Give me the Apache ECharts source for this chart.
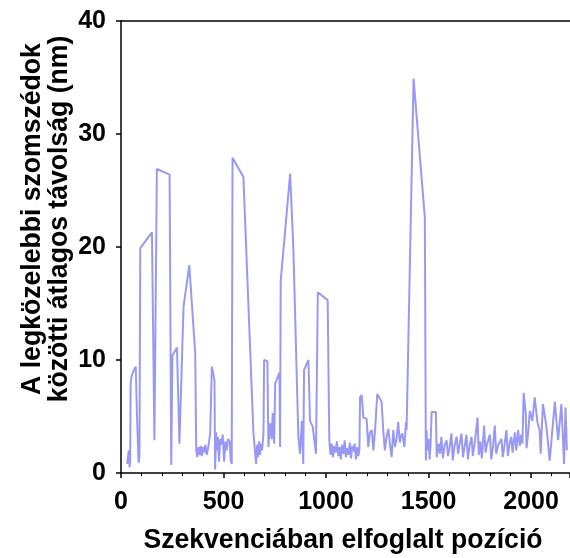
<!DOCTYPE html>
<html>
<head>
<meta charset="utf-8">
<script src="https://cdn.jsdelivr.net/npm/echarts@6/dist/echarts.min.js"></script>
<style>
  html, body { margin: 0; padding: 0; background: #fff; }
  #main { width: 570px; height: 558px; }
</style>
</head>
<body>
<div id="main"></div>
<script>
// pozíció (x) és távolság (nm) párok
const positions = [
  30, 38, 42, 45, 47, 52, 60, 72, 78, 86, 90, 94, 151, 163, 175, 237, 245, 251, 273, 285,
  305, 333, 362, 367, 372, 378, 383, 389, 394, 400, 406, 412, 418, 425, 435, 443, 456, 459, 464, 468,
  473, 478, 484, 490, 496, 503, 509, 515, 522, 530, 535, 540, 544, 597, 646, 659, 664, 668, 673, 678,
  683, 688, 695, 698, 714, 719, 727, 735, 740, 747, 752, 773, 776, 779, 825, 841, 865, 873, 882, 889,
  893, 914, 922, 935, 951, 960, 1008, 1016, 1022, 1028, 1034, 1040, 1047, 1053, 1060, 1066, 1072, 1078, 1085, 1091,
  1097, 1104, 1110, 1116, 1122, 1128, 1134, 1140, 1146, 1152, 1158, 1163, 1166, 1174, 1182, 1198, 1206, 1214, 1223, 1231,
  1240, 1250, 1255, 1271, 1279, 1287, 1295, 1304, 1312, 1320, 1328, 1336, 1344, 1352, 1360, 1366, 1372, 1382, 1390, 1393,
  1427, 1482, 1487, 1490, 1495, 1500, 1505, 1510, 1515, 1536, 1540, 1550, 1556, 1563, 1570, 1578, 1588, 1595, 1602, 1612,
  1618, 1626, 1637, 1644, 1652, 1661, 1668, 1675, 1685, 1692, 1700, 1710, 1716, 1725, 1739, 1745, 1752, 1760, 1771, 1778,
  1786, 1799, 1806, 1814, 1823, 1830, 1840, 1856, 1862, 1870, 1880, 1887, 1895, 1904, 1910, 1921, 1928, 1937, 1945, 1952,
  1958, 1964, 1974, 1978, 1986, 1994, 2006, 2018, 2031, 2042, 2047, 2058, 2075, 2091, 2100, 2116, 2132, 2148, 2161, 2168,
  2175
];
const distances = [
  0.8, 2.0, 0.5, 1.2, 8.0, 8.6, 9.0, 9.4, 5.0, 0.9, 1.5, 19.9, 21.3, 2.9, 26.9, 26.4, 0.7, 10.4, 11.1, 2.6,
  14.7, 18.4, 10.6, 2.0, 1.4, 2.3, 1.6, 2.4, 1.5, 2.3, 1.8, 2.5, 1.6, 2.2, 3.5, 9.4, 8.2, 0.3, 3.6, 2.0,
  3.2, 1.0, 3.0, 2.5, 3.4, 1.0, 2.8, 2.0, 3.0, 2.8, 1.2, 0.8, 27.9, 26.2, 3.5, 0.8, 2.5, 1.4, 2.8, 1.6,
  2.6, 2.0, 3.5, 10.0, 9.9, 2.3, 4.4, 3.0, 5.3, 2.6, 7.9, 8.9, 2.3, 17.0, 26.5, 19.7, 3.2, 1.7, 4.6, 0.8,
  9.1, 10.0, 4.6, 4.1, 1.7, 16.0, 15.3, 2.9, 1.6, 2.6, 1.4, 2.4, 1.8, 2.8, 1.5, 2.3, 1.2, 2.5, 1.7, 2.9,
  1.4, 2.2, 1.6, 2.7, 1.3, 2.4, 1.9, 2.6, 1.2, 2.3, 1.5, 2.2, 6.7, 6.9, 4.9, 4.8, 2.3, 3.6, 3.8, 2.0,
  4.0, 7.0, 6.9, 6.3, 3.8, 2.0, 3.2, 3.9, 2.5, 1.4, 3.8, 2.3, 3.0, 4.5, 2.7, 3.3, 3.5, 2.3, 4.5, 3.8,
  34.9, 22.6, 1.1, 3.8, 2.0, 3.0, 1.2, 2.5, 5.4, 5.4, 1.4, 2.6, 1.7, 3.2, 1.3, 2.4, 2.9, 1.5, 2.2, 3.5,
  1.1, 2.3, 3.2, 1.7, 2.6, 3.5, 1.4, 2.2, 3.4, 1.2, 2.4, 3.2, 1.5, 2.6, 4.9, 1.6, 2.8, 1.3, 4.2, 1.8,
  2.6, 3.4, 1.2, 2.3, 4.2, 1.7, 2.5, 3.0, 1.4, 2.4, 3.8, 1.5, 2.6, 3.2, 1.8, 3.6, 2.0, 3.8, 2.4, 3.4,
  2.6, 7.1, 5.3, 2.2, 3.6, 5.5, 4.6, 6.7, 4.5, 3.8, 1.7, 6.1, 4.1, 1.1, 3.0, 6.3, 2.9, 6.1, 0.8, 5.8,
  2.0
];
const xTicks = [0, 500, 1000, 1500, 2000];
const yTicks = [0, 10, 20, 30, 40];

const xTitle = 'Szekvenciában elfoglalt pozíció';
const yTitle = 'A legközelebbi szomszédok\nközötti átlagos távolság (nm)';

const font = "'Liberation Sans', Arial, sans-serif";
const chart = echarts.init(document.getElementById('main'));

const option = {
  animation: false,
  grid: { left: 121, right: 0, top: 21, bottom: 85, containLabel: false },
  xAxis: [
    {
      type: 'value',
      min: xTicks[0],
      max: 2190,
      interval: 500,
      splitLine: { show: false },
      axisLine: { lineStyle: { color: '#000', width: 1.5 } },
      axisTick: { length: 5, lineStyle: { color: '#000', width: 1.5 } },
      minorTick: { show: true, splitNumber: 5, length: 3, lineStyle: { color: '#000', width: 1 } },
      axisLabel: {
        margin: 17, color: '#000', fontSize: 25, fontWeight: 'bold', fontFamily: font,
        showMaxLabel: false,
        formatter: v => (xTicks.indexOf(v) >= 0 ? String(v) : '')
      }
    },
    {
      type: 'value',
      position: 'top',
      min: 0,
      max: 2190,
      axisLine: { show: true, lineStyle: { color: '#000', width: 1.5 } },
      axisTick: { show: false },
      axisLabel: { show: false },
      splitLine: { show: false }
    }
  ],
  yAxis: {
    type: 'value',
    min: yTicks[0],
    max: yTicks[yTicks.length - 1],
    interval: 10,
    splitLine: { show: false },
    axisLine: { show: true, lineStyle: { color: '#000', width: 1.5 } },
    axisTick: { show: true, length: 5, lineStyle: { color: '#000', width: 1.5 } },
    axisLabel: { margin: 15, color: '#000', fontSize: 25, fontWeight: 'bold', fontFamily: font }
  },
  graphic: [
    {
      type: 'text',
      x: 46, y: 219,
      rotation: Math.PI / 2,
      scaleX: 0.95,
      style: {
        text: yTitle, fill: '#000', font: 'bold 28px ' + font,
        textAlign: 'center', textVerticalAlign: 'middle', lineHeight: 27
      }
    },
    {
      type: 'text',
      x: 343, y: 540,
      scaleX: 0.95,
      style: {
        text: xTitle, fill: '#000', font: 'bold 28px ' + font,
        textAlign: 'center', textVerticalAlign: 'middle'
      }
    }
  ],
  series: [
    {
      type: 'line',
      xAxisIndex: 0,
      showSymbol: false,
      clip: true,
      lineStyle: { color: 'rgba(90, 90, 238, 0.62)', width: 2 },
      data: positions.map((p, i) => [p, distances[i]])
    }
  ]
};

chart.setOption(option);
</script>
</body>
</html>
